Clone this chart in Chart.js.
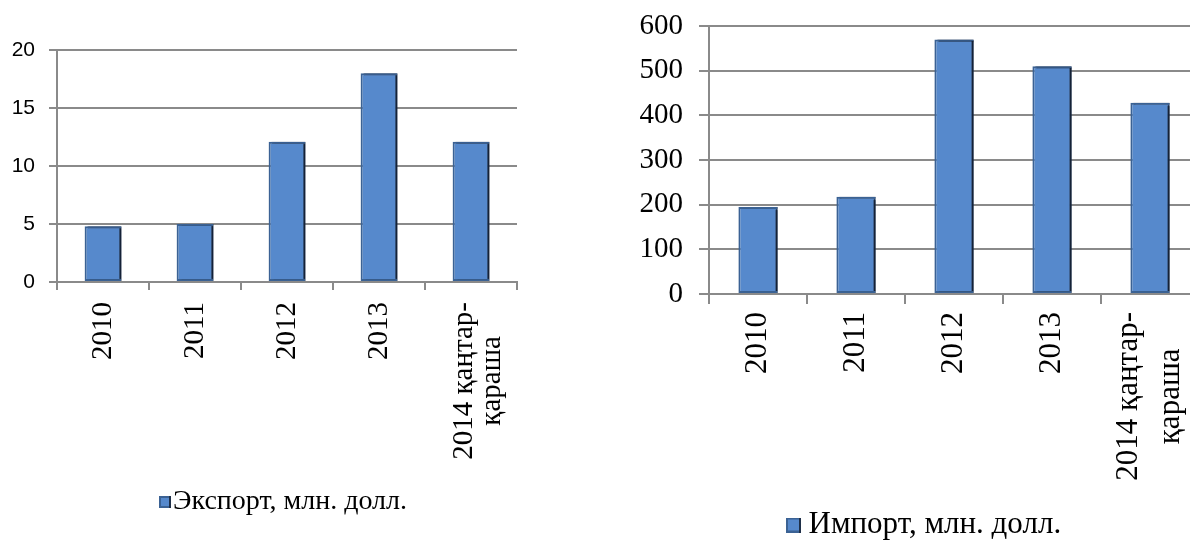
<!DOCTYPE html>
<html>
<head>
<meta charset="utf-8">
<script src="https://cdn.jsdelivr.net/npm/chart.js"></script>
<style>
  html, body { margin: 0; padding: 0; background: #fff; }
  body { width: 1190px; height: 544px; position: relative; overflow: hidden; }
  #left  { position: absolute; left: 0;     top: 0; width: 580px; height: 544px; }
  #right { position: absolute; left: 620px; top: 0; width: 590px; height: 544px; }
</style>
</head>
<body>
<div id="left"><canvas id="exportChart"></canvas></div>
<div id="right"><canvas id="importChart"></canvas></div>

<script>
// categories (last one is two lines)
var years = ['2010', '2011', '2012', '2013', ['2014 қаңтар-', 'қараша']];

// values
var exportVals = [4.8, 5.0, 12.1, 18.0, 12.1];
var importVals = [195, 218, 570, 510, 428];

// y tick labels
var exportTicks = [0, 5, 10, 15, 20];
var importTicks = [0, 100, 200, 300, 400, 500, 600];

var serif = '"Liberation Serif", "Times New Roman", serif';
var sans = '"Liberation Sans", Arial, sans-serif';
var gridColor = '#8a8a8a';
var barFill = '#5689cc';
var barEdge = '#3b6294';

// dark edge on the right side of each bar (office 3d look)
var barShadow = {
    id: 'barShadow',
    beforeDatasetsDraw: function(chart) {
        var c = chart.ctx;
        c.save();
        c.shadowColor = 'rgba(18,28,44,0.9)';
        c.shadowOffsetX = 3;
        c.shadowOffsetY = 0;
        c.shadowBlur = 1;
    },
    afterDatasetsDraw: function(chart) {
        chart.ctx.restore();
    }
};

// vertical category labels, lines centred on each other like in the picture
var yearLabels = {
    id: 'yearLabels',
    afterDraw: function(chart, args, opts) {
        var sc = chart.scales.x, ctx = chart.ctx;
        ctx.save();
        ctx.font = opts.size + 'px ' + serif;
        ctx.fillStyle = '#000';
        ctx.textAlign = 'center';
        ctx.textBaseline = 'middle';
        chart.data.labels.forEach(function(lab, i) {
            var lines = [].concat(lab);
            var w = Math.max.apply(null, lines.map(function(l) { return ctx.measureText(l).width; }));
            var shift = lines.length > 1 ? opts.shift : 0;
            ctx.save();
            ctx.translate(sc.getPixelForTick(i) + shift, sc.top + opts.gap);
            ctx.rotate(-Math.PI / 2);
            lines.forEach(function(l, k) {
                ctx.fillText(l, -w / 2, (k - (lines.length - 1) / 2) * opts.lineHeight);
            });
            ctx.restore();
        });
        ctx.restore();
    }
};

// put the legend where it sits in the picture (x = start of the box area, y = text middle)
var legendSpot = {
    id: 'legendSpot',
    afterLayout: function(chart, args, opts) {
        var lg = chart.legend;
        var pad = lg.options.labels.padding;
        var cx = opts.x + (lg.lineWidths[0] - pad) / 2;
        var w = lg.right - lg.left;
        lg.left = cx - w / 2;
        lg.right = cx + w / 2;
        lg.top = opts.y - pad - lg.options.labels.font.size / 2;
        lg.bottom = lg.top + lg.height;
    }
};

// legend square drawn on the right of a wider image so it sits close to the text
function legendBox(size, shift) {
    var c = document.createElement('canvas');
    c.width = size + 2 * shift;
    c.height = size;
    var g = c.getContext('2d');
    g.fillStyle = barEdge;
    g.fillRect(2 * shift, 0, size, size);
    g.fillStyle = barFill;
    g.fillRect(2 * shift + 2, 2, size - 4, size - 4);
    g.fillStyle = '#1f3049';
    g.fillRect(2 * shift + size - 2, 0, 2, size);
    return c;
}

function makeChart(id, label, values, ticks, cfg) {
    return new Chart(document.getElementById(id), {
        type: 'bar',
        data: {
            labels: years,
            datasets: [{
                label: label,
                data: values,
                backgroundColor: barFill,
                borderColor: barEdge,
                borderWidth: 2,
                borderSkipped: false,
                categoryPercentage: 1,
                barPercentage: 0.4
            }]
        },
        plugins: [barShadow, yearLabels, legendSpot],
        options: {
            responsive: true,
            maintainAspectRatio: false,
            animation: false,
            layout: { padding: cfg.padding },
            plugins: {
                tooltip: { enabled: false },
                yearLabels: cfg.xLabels,
                legendSpot: cfg.legendAt,
                legend: {
                    position: 'bottom',
                    labels: {
                        color: '#000',
                        font: { family: serif, size: cfg.legendSize },
                        usePointStyle: true,
                        pointStyle: legendBox(cfg.box, cfg.boxShift),
                        boxWidth: cfg.box,
                        boxHeight: cfg.box,
                        padding: 4
                    }
                }
            },
            scales: {
                x: {
                    // x axis takes whatever is left so the plot ends at cfg.plotBottom
                    afterFit: function(s) { s.height = s.chart.height - s.chart.legend.height - cfg.plotBottom; },
                    grid: {
                        display: true,
                        drawOnChartArea: false,
                        offset: true,
                        color: gridColor,
                        lineWidth: 2,
                        tickLength: cfg.tick
                    },
                    border: { color: gridColor, width: 2 },
                    ticks: { display: false, autoSkip: false }
                },
                y: {
                    min: ticks[0],
                    max: ticks[ticks.length - 1],
                    afterFit: function(s) {
                        s.width = cfg.yWidth;
                        s.paddingTop = 0;
                        s.paddingBottom = 0;
                    },
                    grid: { color: gridColor, lineWidth: 2, tickLength: cfg.tick },
                    border: { color: gridColor, width: 2 },
                    ticks: {
                        stepSize: ticks[1] - ticks[0],
                        autoSkip: false,
                        color: '#000',
                        padding: cfg.yPad,
                        font: cfg.yFont
                    }
                }
            }
        }
    });
}

makeChart('exportChart', 'Экспорт, млн. долл.', exportVals, exportTicks, {
    padding: { left: 0, right: 63, top: 50, bottom: 0 },
    plotBottom: 282,
    yWidth: 57,
    tick: 8,
    yPad: 14,
    yFont: { family: sans, size: 21 },
    legendSize: 28,
    box: 12,
    boxShift: 12,
    legendAt: { x: 147, y: 502 },
    xLabels: { size: 29, gap: 20, lineHeight: 28, shift: 7 }
});

makeChart('importChart', 'Импорт, млн. долл.', importVals, importTicks, {
    padding: { left: 0, right: 11, top: 26, bottom: 0 },
    plotBottom: 294,
    yWidth: 89,
    tick: 10,
    yPad: 16,
    yFont: { family: serif, size: 29 },
    legendSize: 31,
    box: 15,
    boxShift: 8,
    legendAt: { x: 778 - 620, y: 525 },
    xLabels: { size: 31, gap: 18, lineHeight: 42, shift: 0 }
});
</script>
</body>
</html>
